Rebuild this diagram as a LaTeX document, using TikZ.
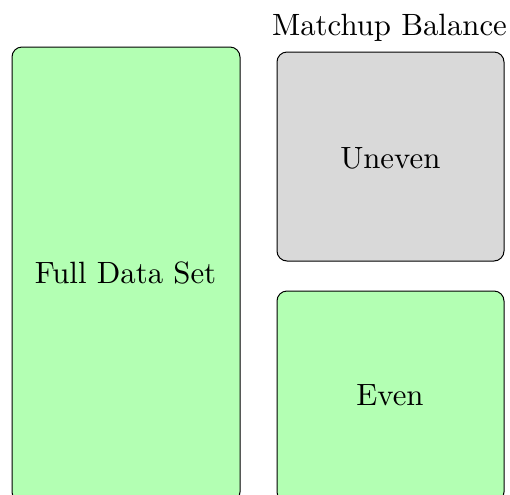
\documentclass[tikz,border=0pt]{standalone}
\usepackage{tikz}
\definecolor{keepgreen}{RGB}{179,255,179}
\definecolor{dropgray}{RGB}{217,217,217}
\tikzset{
  setbox/.style={draw=black, line width=0.5pt, rounded corners=5pt, inner sep=0pt},
  greenbox/.style={setbox, fill=keepgreen},
  graybox/.style={setbox, fill=dropgray},
  caption/.style={inner sep=0pt, anchor=base, font=\normalsize, scale=1.54}
}
\begin{document}
\begin{tikzpicture}[x=1pt,y=1pt]
  \useasboundingbox (0,0) rectangle (255,-247);
  \begin{scope}
    \clip (0,0) rectangle (255,-247);
    % full data set column, running past the lower edge
    \node[greenbox, minimum width=114pt, minimum height=227.5pt] (full) at (63,-137.25) {};
    % matchup balance split
    \node[graybox, minimum width=113.5pt, minimum height=104.5pt] (uneven) at (195.25,-78.25) {};
    \node[greenbox, minimum width=113.5pt, minimum height=105.5pt] (even) at (195.25,-198.25) {};
  \end{scope}
  \node[caption] (fulltext) at (62.75,-141.6) {Full Data Set};
  \node[caption] (uneventext) at (195.15,-84.15) {Uneven};
  \node[caption] (eventext) at (195,-202.85) {Even};
  \node[caption] (title) at (194.75,-17.5) {Matchup Balance};
\end{tikzpicture}
\end{document}
